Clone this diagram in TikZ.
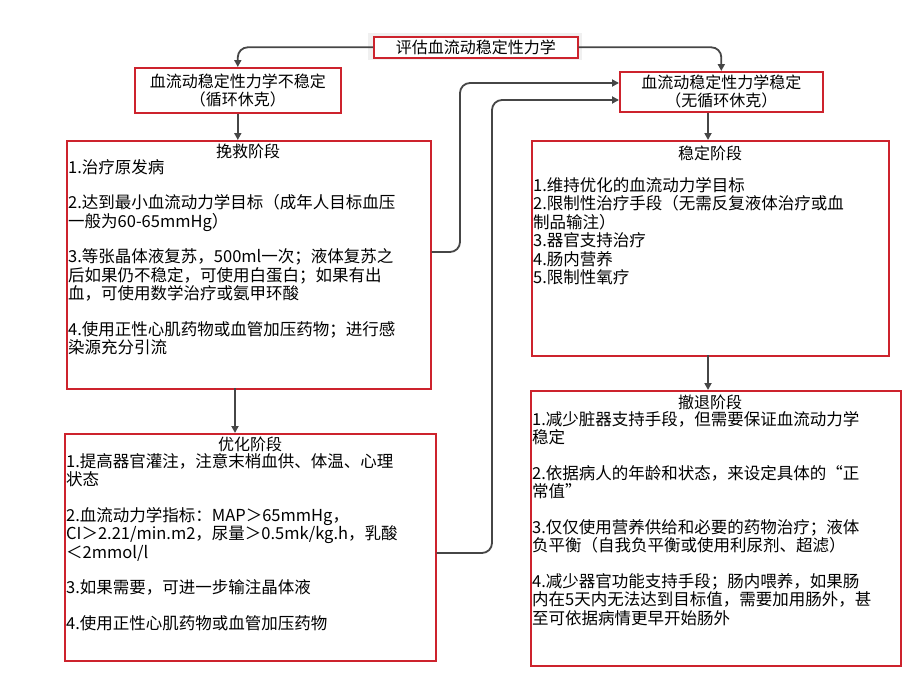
\documentclass[tikz,border=0pt]{standalone}
\usepackage{fontspec}
\setmainfont{Noto Sans CJK SC}
\usetikzlibrary{arrows.meta}
\definecolor{bred}{RGB}{205,35,45}
\definecolor{lgray}{RGB}{70,70,70}
\begin{document}
\begin{tikzpicture}[x=1pt,y=-1pt,
  box/.style={draw=bred,line width=1.6pt,fill=white},
  ttl/.style={font=\fontsize{16}{18}\selectfont,align=center,inner sep=0},
  body/.style={font=\fontsize{16.5}{18.5}\selectfont,align=left,anchor=north west,inner sep=0},
  conn/.style={draw=lgray,line width=1.8pt,rounded corners=10pt,-{Triangle[length=7pt,width=7pt]}}]
\useasboundingbox (0,0) rectangle (923,672);
% boxes
\fill[gray!12] (368,33) rectangle (582,60);
\node[box,minimum width=204,minimum height=21,inner sep=0,anchor=north west] (top) at (373,36) {};
\node[ttl] at (top.center) {评估血流动稳定性力学};
\node[box,minimum width=206,minimum height=45,inner sep=0,anchor=north west] (L1) at (134,67) {};
\node[ttl] at (L1.center) {血流动稳定性力学不稳定\\（循环休克）};
\node[box,minimum width=203,minimum height=40,inner sep=0,anchor=north west] (R1) at (619,71) {};
\node[ttl] at (R1.center) {血流动稳定性力学稳定\\（无循环休克）};
\node[box,minimum width=364,minimum height=248,inner sep=0,anchor=north west] (S1) at (66,140) {};
\node[box,minimum width=371,minimum height=227,inner sep=0,anchor=north west] (S2) at (64,433) {};
\node[box,minimum width=357,minimum height=215,inner sep=0,anchor=north west] (S3) at (531,140) {};
\node[box,minimum width=370,minimum height=275,inner sep=0,anchor=north west] (S4) at (530,390) {};
% titles
\node[ttl] at (248,151) {挽救阶段};
\node[ttl] at (250,444) {优化阶段};
\node[ttl] at (710,153) {稳定阶段};
\node[ttl] at (710,402) {撤退阶段};
% bodies
\node[body] at (68,159) {1.治疗原发病\\[17pt]
2.达到最小血流动力学目标（成年人目标血压\\一般为60-65mmHg）\\[17pt]
3.等张晶体液复苏，500ml一次；液体复苏之\\后如果仍不稳定，可使用白蛋白；如果有出\\血，可使用数学治疗或氨甲环酸\\[17pt]
4.使用正性心肌药物或血管加压药物；进行感\\染源充分引流};
\node[body] at (66,453) {1.提高器官灌注，注意末梢血供、体温、心理\\状态\\[17pt]
2.血流动力学指标：MAP＞65mmHg，\\CI＞2.21/min.m2，尿量＞0.5mk/kg.h，乳酸\\＜2mmol/l\\[17pt]
3.如果需要，可进一步输注晶体液\\[17pt]
4.使用正性心肌药物或血管加压药物};
\node[body] at (533,177) {1.维持优化的血流动力学目标\\2.限制性治疗手段（无需反复液体治疗或血\\制品输注）\\3.器官支持治疗\\4.肠内营养\\5.限制性氧疗};
\node[body] at (532,411) {1.减少脏器支持手段，但需要保证血流动力学\\稳定\\[17pt]
2.依据病人的年龄和状态，来设定具体的“正\\常值”\\[17pt]
3.仅仅使用营养供给和必要的药物治疗；液体\\负平衡（自我负平衡或使用利尿剂、超滤）\\[17pt]
4.减少器官功能支持手段；肠内喂养，如果肠\\内在5天内无法达到目标值，需要加用肠外，甚\\至可依据病情更早开始肠外};
% connectors
\draw[conn] (top.west) -| (L1.north);
\draw[conn] (top.east) -| (R1.north);
\draw[conn] (L1.south) -- (S1.north -| L1.south);
\draw[conn] (235,388) -- (235,433);
\draw[conn] (R1.south -| 708,0) -- (708,140);
\draw[conn] (708,355) -- (708,390);
\coordinate (a1) at (S1.east |- 0,252);
\coordinate (a2) at (S2.east |- 0,553);
\draw[conn] (a1) -- (460,252) -- (460,83) -- (R1.west |- 0,83);
\draw[conn] (a2) -- (492,553) -- (492,100) -- (R1.west |- 0,100);
\end{tikzpicture}
\end{document}
